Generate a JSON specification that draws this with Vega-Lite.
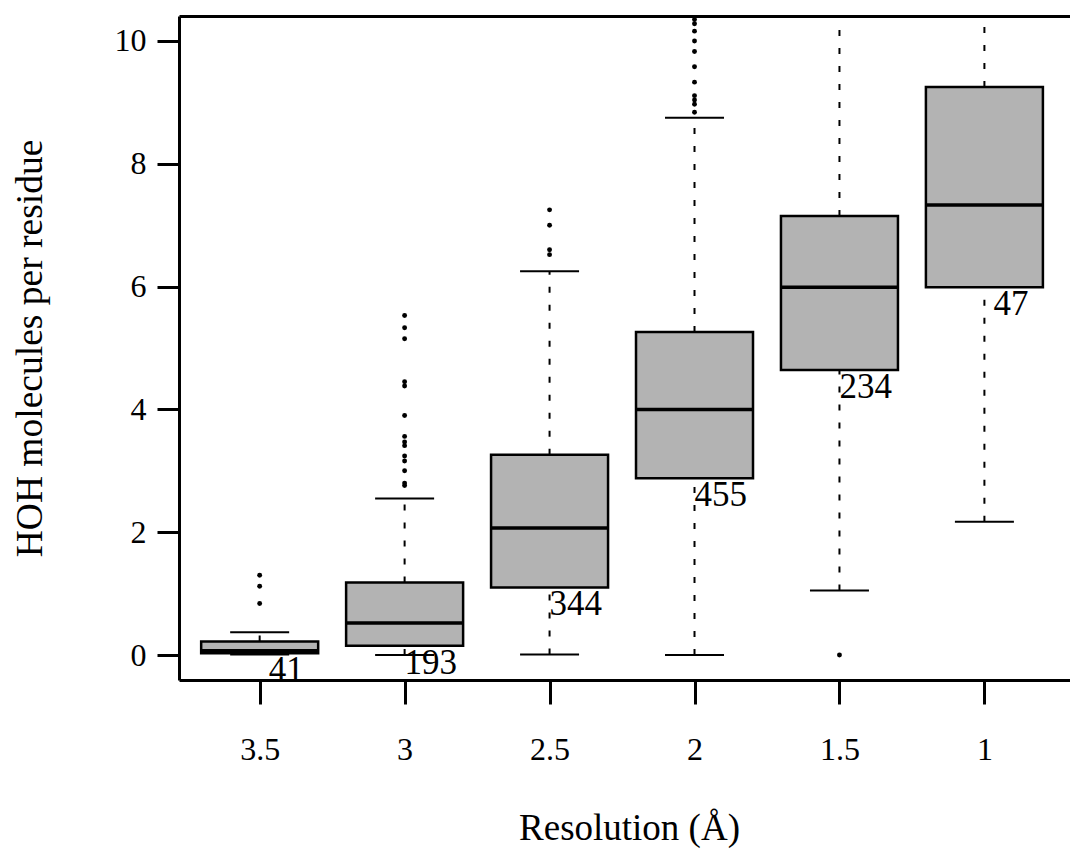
{
  "$schema": "https://vega.github.io/schema/vega-lite/v6.json",
  "autosize": "none",
  "width": 891,
  "height": 664,
  "padding": {"left": 179, "top": 16, "right": 0, "bottom": 170},
  "background": "white",
  "config": {
    "font": "Liberation Serif",
    "view": {"stroke": null},
    "axis": {"grid": false, "domainColor": "black", "domainWidth": 3, "tickColor": "black", "tickWidth": 3, "labelColor": "black", "titleColor": "black", "labelFont": "Liberation Serif", "titleFont": "Liberation Serif", "titleFontWeight": "normal"}
  },
  "datasets": {
    "boxes": [
      {"idx": 1, "res": "3.5", "n": 41, "lo": 0.01, "q1": 0.03, "med": 0.07, "q3": 0.22, "hi": 0.37},
      {"idx": 2, "res": "3", "n": 193, "lo": 0.0, "q1": 0.15, "med": 0.52, "q3": 1.18, "hi": 2.55},
      {"idx": 3, "res": "2.5", "n": 344, "lo": 0.01, "q1": 1.10, "med": 2.07, "q3": 3.26, "hi": 6.25},
      {"idx": 4, "res": "2", "n": 455, "lo": 0.0, "q1": 2.88, "med": 4.0, "q3": 5.26, "hi": 8.75},
      {"idx": 5, "res": "1.5", "n": 234, "lo": 1.05, "q1": 4.64, "med": 5.99, "q3": 7.15, "hi": 10.6},
      {"idx": 6, "res": "1", "n": 47, "lo": 2.17, "q1": 5.99, "med": 7.33, "q3": 9.25, "hi": 11.0}
    ],
    "outliers": [
      {"idx": 1, "v": 1.30}, {"idx": 1, "v": 1.12}, {"idx": 1, "v": 0.84},
      {"idx": 2, "v": 5.53}, {"idx": 2, "v": 5.33}, {"idx": 2, "v": 5.15}, {"idx": 2, "v": 4.45}, {"idx": 2, "v": 4.38},
      {"idx": 2, "v": 3.90}, {"idx": 2, "v": 3.56}, {"idx": 2, "v": 3.47}, {"idx": 2, "v": 3.41}, {"idx": 2, "v": 3.24},
      {"idx": 2, "v": 3.16}, {"idx": 2, "v": 3.00}, {"idx": 2, "v": 2.80}, {"idx": 2, "v": 2.76},
      {"idx": 3, "v": 7.25}, {"idx": 3, "v": 7.0}, {"idx": 3, "v": 6.6}, {"idx": 3, "v": 6.52},
      {"idx": 4, "v": 10.35}, {"idx": 4, "v": 10.28}, {"idx": 4, "v": 10.16}, {"idx": 4, "v": 10.0}, {"idx": 4, "v": 9.83},
      {"idx": 4, "v": 9.58}, {"idx": 4, "v": 9.33}, {"idx": 4, "v": 9.11}, {"idx": 4, "v": 9.04}, {"idx": 4, "v": 8.97}, {"idx": 4, "v": 8.84},
      {"idx": 5, "v": 0.0}
    ]
  },
  "resolve": {"axis": {"x": "independent", "y": "independent"}},
  "layer": [
    {
      "data": {"name": "boxes"},
      "mark": {"type": "rule", "strokeDash": [6, 12], "strokeWidth": 2, "color": "black", "opacity": 1, "clip": true},
      "encoding": {
        "x": {"field": "idx", "type": "quantitative", "scale": {"domain": [0.478, 6.556], "nice": false, "zero": false},
          "axis": {"orient": "bottom", "values": [1, 2, 3, 4, 5, 6], "labelExpr": "['3.5','3','2.5','2','1.5','1'][datum.value - 1]", "labelFontSize": 32, "labelPadding": 30, "tickSize": 24, "title": "Resolution (Å)", "titleFontSize": 37, "titleX": 450, "titleY": 148, "titleBaseline": "middle", "titleAnchor": "middle"}},
        "y": {"field": "q3", "type": "quantitative", "scale": {"domain": [-0.407, 10.407], "nice": false, "zero": false},
          "axis": {"orient": "left", "values": [0, 2, 4, 6, 8, 10], "labelFontSize": 32, "labelPadding": 11, "tickSize": 22, "labelBaseline": "middle", "title": "HOH molecules per residue", "titleFontSize": 37.5, "titleX": -149, "titleY": 332, "titleAngle": 270, "titleBaseline": "middle", "titleAnchor": "middle"}},
        "y2": {"field": "hi"}
      }
    },
    {
      "data": {"name": "boxes"},
      "mark": {"type": "rule", "strokeDash": [6, 12], "strokeWidth": 2, "color": "black", "opacity": 1, "clip": true},
      "encoding": {
        "x": {"field": "idx", "type": "quantitative", "axis": {"orient": "top", "labels": false, "ticks": false, "title": null, "values": []}},
        "y": {"field": "lo", "type": "quantitative", "axis": null},
        "y2": {"field": "q1"}
      }
    },
    {
      "data": {"name": "boxes"},
      "mark": {"type": "tick", "orient": "horizontal", "size": 59, "thickness": 2, "color": "black", "opacity": 1, "clip": true},
      "encoding": {
        "x": {"field": "idx", "type": "quantitative", "axis": null},
        "y": {"field": "hi", "type": "quantitative", "axis": null}
      }
    },
    {
      "data": {"name": "boxes"},
      "mark": {"type": "tick", "orient": "horizontal", "size": 59, "thickness": 2, "color": "black", "opacity": 1, "clip": true},
      "encoding": {
        "x": {"field": "idx", "type": "quantitative", "axis": null},
        "y": {"field": "lo", "type": "quantitative", "axis": null}
      }
    },
    {
      "data": {"name": "boxes"},
      "mark": {"type": "bar", "width": 117, "fill": "#b3b3b3", "stroke": "black", "strokeWidth": 2.5, "opacity": 1, "clip": true},
      "encoding": {
        "x": {"field": "idx", "type": "quantitative", "axis": null},
        "y": {"field": "q1", "type": "quantitative", "axis": null},
        "y2": {"field": "q3"}
      }
    },
    {
      "data": {"name": "boxes"},
      "mark": {"type": "tick", "orient": "horizontal", "size": 117, "thickness": 3.5, "color": "black", "opacity": 1, "clip": true},
      "encoding": {
        "x": {"field": "idx", "type": "quantitative", "axis": null},
        "y": {"field": "med", "type": "quantitative", "axis": null}
      }
    },
    {
      "data": {"name": "outliers"},
      "mark": {"type": "point", "filled": true, "size": 24, "color": "black", "opacity": 1, "clip": true},
      "encoding": {
        "x": {"field": "idx", "type": "quantitative", "axis": null},
        "y": {"field": "v", "type": "quantitative", "axis": null}
      }
    },
    {
      "data": {"name": "boxes"},
      "transform": [{"filter": "datum.n >= 100"}],
      "mark": {"type": "text", "align": "left", "baseline": "top", "fontSize": 35, "font": "Liberation Serif", "color": "black", "clip": true},
      "encoding": {
        "x": {"field": "idx", "type": "quantitative", "axis": null},
        "y": {"field": "q1", "type": "quantitative", "axis": null},
        "text": {"field": "n", "type": "quantitative", "format": "d"}
      }
    },
    {
      "data": {"name": "boxes"},
      "transform": [{"filter": "datum.n < 100"}],
      "mark": {"type": "text", "align": "left", "baseline": "top", "dx": 9, "fontSize": 35, "font": "Liberation Serif", "color": "black", "clip": true},
      "encoding": {
        "x": {"field": "idx", "type": "quantitative", "axis": null},
        "y": {"field": "q1", "type": "quantitative", "axis": null},
        "text": {"field": "n", "type": "quantitative", "format": "d"}
      }
    }
  ]
}
